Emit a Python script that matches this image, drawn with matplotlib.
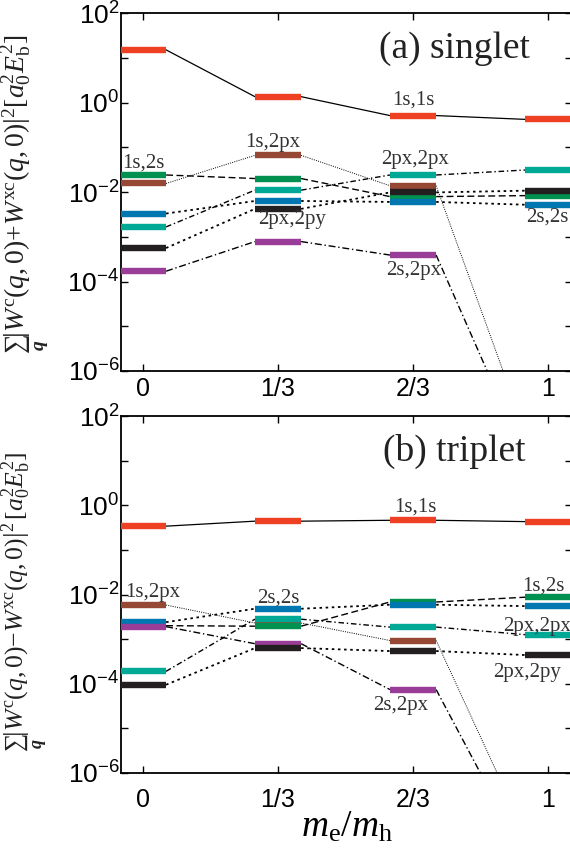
import matplotlib
matplotlib.use('Agg')
import matplotlib.pyplot as plt

plt.rcParams['mathtext.fontset'] = 'custom'
plt.rcParams['mathtext.rm'] = 'Liberation Serif'
plt.rcParams['mathtext.it'] = 'Liberation Serif:italic'
plt.rcParams['mathtext.bf'] = 'Liberation Serif:bold:italic'
plt.rcParams['mathtext.sf'] = 'Liberation Sans'
plt.rcParams['font.family'] = 'Liberation Sans'

# mass ratio m_e/m_h
x_ratio = [0.0, 1/3, 2/3, 1.0]
x_labels = ['0', '1/3', '2/3', '1']

pairs = ['1s,1s', '1s,2px', '1s,2s', '2px,2px', '2s,2s', '2s,2px', '2px,2py']

# singlet channel, sum_q |W^c + W^xc|^2  [a0^2 Eb^2]
singlet = {
    '1s,1s':   [15.0, 1.35, 0.51, 0.42],
    '1s,2px':  [0.0155, 0.066, 0.0138, 4.4e-8],
    '1s,2s':   [0.024, 0.020, 0.0079, 0.0083],
    '2px,2px': [0.00166, 0.011, 0.024, 0.031],
    '2s,2s':   [0.0033, 0.0063, 0.0060, 0.0052],
    '2s,2px':  [1.7e-4, 7.8e-4, 3.9e-4, 1.2e-8],
    '2px,2py': [5.6e-4, 0.0042, 0.0098, 0.0107],
}

# triplet channel, sum_q |W^c - W^xc|^2  [a0^2 Eb^2]
triplet = {
    '1s,1s':   [0.34, 0.44, 0.46, 0.43],
    '1s,2px':  [0.0058, 0.0023, 9.3e-4, 4.4e-8],
    '1s,2s':   [0.0020, 0.00195, 0.0068, 0.0087],
    '2px,2px': [1.9e-4, 0.0028, 0.00186, 0.00126],
    '2s,2s':   [0.0024, 0.0048, 0.0059, 0.0055],
    '2s,2px':  [0.0019, 7.9e-4, 7.4e-5, 1.3e-8],
    '2px,2py': [9.5e-5, 6.3e-4, 5.4e-4, 4.4e-4],
}

colors = {
    '1s,1s': '#ee4124', '1s,2px': '#974835', '1s,2s': '#00904f',
    '2px,2px': '#00a996', '2s,2s': '#0077b0', '2s,2px': '#9a3d98',
    '2px,2py': '#231f20',
}
styles = {
    '1s,1s': ('-', 0.9), '1s,2px': ((0, (1, 1.3)), 0.7),
    '1s,2s': ((0, (5, 2.5)), 1.0), '2px,2px': ((0, (4, 2, 1, 2)), 1.0),
    '2s,2s': ((0, (1.4, 2)), 1.3), '2s,2px': ((0, (5, 2, 1, 2)), 1.0),
    '2px,2py': ((0, (1.4, 2)), 1.3),
}
# drawing order of the levels (later ones lie on top)
order = ['1s,1s', '1s,2px', '1s,2s', '2px,2px', '2s,2s', '2s,2px', '2px,2py']

singlet_notes = [('1s,1s', 2/3, 1.15), ('1s,2px', 0.32, 0.125),
                 ('1s,2s', 0.0, 0.045), ('2px,2px', 0.672, 0.052),
                 ('2px,2py', 0.368, 0.0024), ('2s,2s', 0.998, 0.0028),
                 ('2s,2px', 0.667, 1.8e-4)]
triplet_notes = [('1s,1s', 0.672, 0.93), ('1s,2px', 0.025, 0.011),
                 ('2s,2s', 0.333, 0.0085), ('1s,2s', 0.988, 0.0158),
                 ('2px,2px', 0.973, 0.0019), ('2px,2py', 0.948, 1.8e-4),
                 ('2s,2px', 0.635, 3.2e-5)]

hw = 0.057  # half width of a level bar

fig = plt.figure(figsize=(5.7, 8.58), dpi=100)
ax1 = fig.add_axes([121/570, 1-371/858, 451/570, 358/858])
ax2 = fig.add_axes([121/570, 1-773/858, 451/570, 357/858])


def draw_panel(ax, data, notes, title, xpad):
    for name in order:
        vals = data[name]
        ls, lw = styles[name]
        for i in range(len(x_ratio) - 1):
            ax.plot([x_ratio[i] + hw, x_ratio[i+1] - hw], [vals[i], vals[i+1]],
                    color='black', ls=ls, lw=lw, zorder=2)
    for k, name in enumerate(order):
        ax.hlines(data[name], [x - hw for x in x_ratio], [x + hw for x in x_ratio],
                  color=colors[name], lw=4.6, zorder=3 + k)
    for name, x, y in notes:
        ax.text(x, y, name, ha='center', va='center', fontsize=15,
                family='Liberation Serif', color='#333333', zorder=20)
    ax.text(0.74, 0.9, title, transform=ax.transAxes, ha='center',
            va='center', fontsize=27, family='Liberation Serif', color='#222222')

    ax.set_yscale('log')
    ax.set_ylim(1e-6, 1e2)
    ax.set_xlim(-0.0543, 1.059)
    ax.set_xticks(x_ratio)
    ax.set_xticklabels(x_labels, fontsize=18)
    decades = [10.0**k for k in range(-6, 3)]
    ax.set_yticks(decades)
    ax.set_yticklabels([r'$\mathsf{10^{%d}}$' % k if k % 2 == 0 else ''
                        for k in range(-6, 3)], fontsize=19)
    ax.minorticks_off()
    ax.tick_params(direction='in', length=5, width=1, top=True, right=True)
    ax.tick_params(axis='x', pad=xpad)
    ax.tick_params(axis='y', pad=1)
    for sp in ax.spines.values():
        sp.set_linewidth(1.3)


draw_panel(ax1, singlet, singlet_notes, '(a) singlet', 4)
draw_panel(ax2, triplet, triplet_notes, '(b) triplet', 11)

ax1.set_ylabel(r'$\sum_{\mathbf{q}}\left|W^{\rm c}(q,0){+}W^{\rm xc}(q,0)\right|^2[a_0^2E_{\rm b}^2]$',
               fontsize=20, color='#222222')
ax1.yaxis.set_label_coords(-0.155, 0.494)
ax2.set_ylabel(r'$\sum_{\mathbf{q}}\left|W^{\rm c}(q,0){-}W^{\rm xc}(q,0)\right|^2\,[a_0^2E_{\rm b}^2]$',
               fontsize=18.5, color='#222222')
ax2.yaxis.set_label_coords(-0.158, 0.48)
ax2.set_xlabel(r'$m_{\rm e}/m_{\rm h}$', fontsize=27, labelpad=-3)

fig.savefig('out.png', dpi=100)
